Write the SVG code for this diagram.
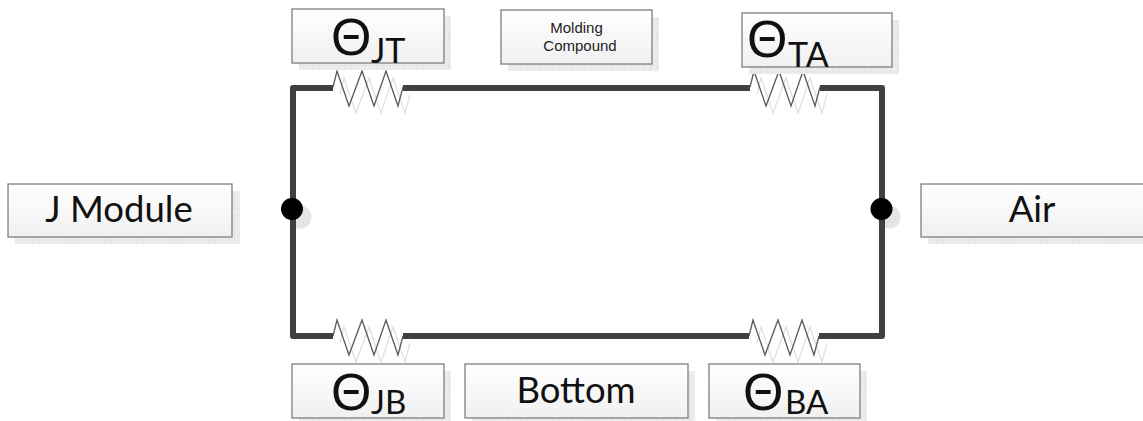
<svg xmlns="http://www.w3.org/2000/svg" width="1143" height="421" viewBox="0 0 1143 421">
<defs>
<linearGradient id="g" x1="0" y1="0" x2="0" y2="1"><stop offset="0" stop-color="#ffffff"/><stop offset="1" stop-color="#f0f0f0"/></linearGradient>
<pattern id="grid" width="6.500" height="6.500" patternUnits="userSpaceOnUse"><rect width="6.500" height="6.500" fill="#ececec"/><path d="M0 0H6.500M0 0V6.500" stroke="#dedede" stroke-width="1" fill="none"/></pattern>
<path id="r" d="M0 0L4 -16L16 19L29 -16L41 19L53 -16L65 19L70 0"/>
</defs>
<style>
.box{fill:url(#g);stroke:#7f7f7f;stroke-width:1.300}
.sh{fill:url(#grid)}
.dot{fill:#e4e4e4}
.w{fill:none;stroke:#404040;stroke-width:6;stroke-linejoin:round}
.res{fill:none;stroke:#595959;stroke-width:1.300}
.ress{fill:none;stroke:#e0e0e0;stroke-width:1.300}
text{font-family:"Lato","Open Sans",sans-serif;fill:#111;text-anchor:middle}
.t{font-size:36.500px}
.th{font-family:"Liberation Sans",Arial,sans-serif;font-size:52px;text-anchor:start}
.sub{font-size:34px;text-anchor:start}
.subb{font-size:33px;text-anchor:start}
.s{font-family:"Liberation Sans",Arial,sans-serif;font-size:15px;fill:#222}
</style>
<g id="connectors">
<circle cx="300" cy="217" r="11.500" class="dot"/>
<circle cx="889" cy="217" r="11.500" class="dot"/>
<use href="#r" x="340" y="94" class="ress"/>
<use href="#r" x="757" y="94" class="ress"/>
<use href="#r" x="340" y="343" class="ress"/>
<use href="#r" x="757" y="343" class="ress"/>
<path class="w" d="M333 88H293V336H333"/>
<path class="w" d="M403 88H750"/>
<path class="w" d="M820 88H882V336H819"/>
<path class="w" d="M403 336H749"/>
<use href="#r" x="333" y="87" class="res"/>
<use href="#r" x="750" y="87" class="res"/>
<use href="#r" x="333" y="336" class="res"/>
<use href="#r" x="749" y="336" class="res"/>
<circle cx="292" cy="209" r="11" fill="#000"/>
<circle cx="881.500" cy="209" r="11" fill="#000"/>
</g>
<g id="node-jt">
<rect x="299" y="16" width="152" height="54" class="sh"/>
<rect x="292" y="9" width="152" height="54" class="box"/>
<text x="331" y="55" class="th">Θ</text><text x="371" y="63" class="sub">JT</text>
</g>
<g id="node-molding">
<rect x="508" y="17" width="151" height="54" class="sh"/>
<rect x="501" y="10" width="151" height="54" class="box"/>
<text x="576.500" y="33" class="s">Molding</text><text x="580" y="51" class="s">Compound</text>
</g>
<g id="node-ta">
<rect x="749" y="20" width="150" height="54" class="sh"/>
<rect x="742" y="13" width="150" height="54" class="box"/>
<text x="747" y="57" class="th">Θ</text><text x="788" y="66.500" class="sub">TA</text>
</g>
<g id="node-jmodule">
<rect x="15" y="191" width="225" height="53" class="sh"/>
<rect x="8" y="184" width="224" height="53" class="box"/>
<text x="119" y="222" class="t">J Module</text>
</g>
<g id="node-air">
<rect x="928" y="191" width="215" height="53" class="sh"/>
<rect x="921" y="184" width="223" height="53" class="box"/>
<text x="1032" y="222" class="t">Air</text>
</g>
<g id="node-jb">
<rect x="299" y="371" width="152" height="50" class="sh"/>
<rect x="292" y="364" width="152" height="54" class="box"/>
<text x="331" y="410" class="th">Θ</text><text x="371" y="414" class="subb">JB</text>
</g>
<g id="node-bottom">
<rect x="472" y="371" width="223" height="50" class="sh"/>
<rect x="465" y="364" width="223" height="54" class="box"/>
<text x="576" y="403" class="t">Bottom</text>
</g>
<g id="node-ba">
<rect x="716" y="371" width="151" height="50" class="sh"/>
<rect x="709" y="364" width="151" height="54" class="box"/>
<text x="743" y="410" class="th">Θ</text><text x="785" y="414" class="subb">BA</text>
</g>
</svg>
